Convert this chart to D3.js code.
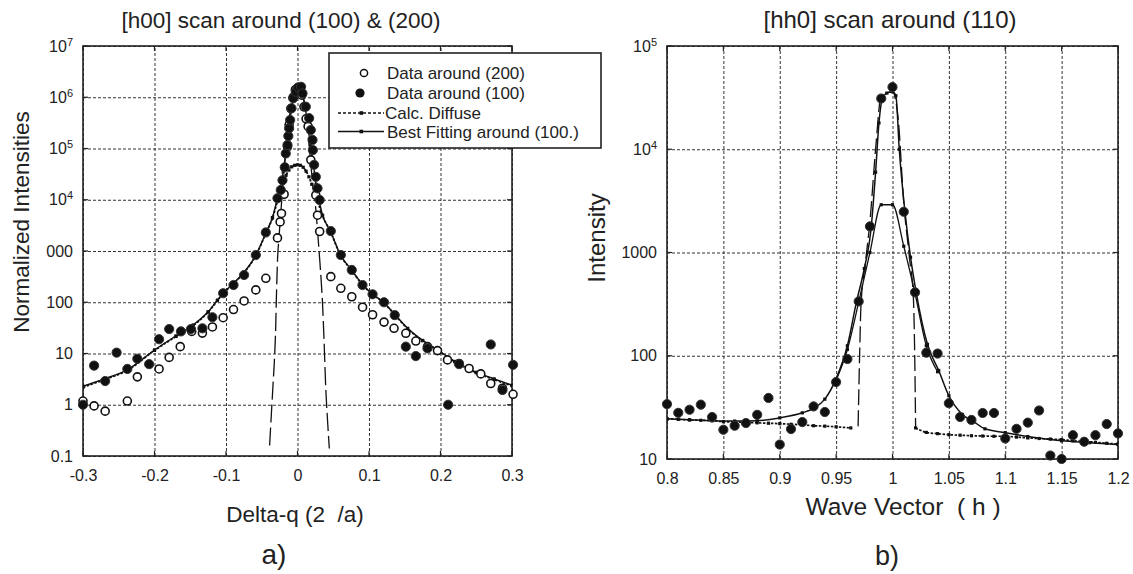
<!DOCTYPE html>
<html>
<head>
<meta charset="utf-8">
<script src="https://cdn.jsdelivr.net/npm/d3@7"></script>
<style>
body { margin: 0; background: #fff; }
svg text { font-family: "Liberation Sans", Arial, sans-serif; fill: #222; white-space: pre; }
.grid line { stroke: #333; stroke-width: 1; stroke-dasharray: 3,2; }
.grid .domain { display: none; }
.lbl .domain { display: none; }
</style>
</head>
<body>
<svg id="chart" width="1133" height="574"></svg>
<script>
// ---- panel a) [h00] scan ----
const q100 = [-0.300,-0.2845,-0.269,-0.253,-0.238,-0.224,-0.2075,-0.1936,-0.1795,-0.163,-0.149,-0.133,-0.119,-0.104,-0.0895,-0.0747,-0.0583,-0.0443,-0.028,-0.0234,-0.021,-0.0178,-0.0164,-0.014,-0.0128,-0.0117,-0.0103,-0.0084,-0.006,-0.0024,0.001,0.005,0.007,0.0116,0.0163,0.0186,0.021,0.0215,0.0232,0.0256,0.028,0.031,0.0466,0.0606,0.0759,0.0909,0.105,0.121,0.136,0.1515,0.1655,0.1818,0.2107,0.226,0.2703,0.2867,0.3015];
const i100 = [1.0,5.8,2.9,10.4,5.0,7.9,6.2,19,30,27,30,31,51,150,217,340,835,2300,10700,15500,24000,43000,80000,117000,175000,248000,360000,608000,955000,1280000,1560000,1600000,1190000,655000,390000,229000,147000,93000,48000,28000,16700,9900,2450,835,427,217,143,100,56,13.6,8.9,12.6,1.0,6.2,15,1.94,6.0];

const q200 = [-0.300,-0.2845,-0.269,-0.238,-0.224,-0.1936,-0.1795,-0.164,-0.148,-0.133,-0.119,-0.104,-0.0895,-0.0747,-0.0583,-0.0443,-0.028,-0.0243,-0.0224,-0.0187,-0.014,-0.0117,-0.0093,-0.006,-0.003,0.0,0.003,0.006,0.009,0.012,0.0148,0.0186,0.0256,0.028,0.031,0.0466,0.0606,0.0759,0.091,0.105,0.121,0.135,0.1515,0.1655,0.1818,0.1958,0.2098,0.226,0.240,0.2564,0.2703,0.2867,0.3015];
const i200 = [1.18,0.95,0.75,1.18,3.5,5.0,8.4,13.6,27,25,33,50,72,106,174,293,1800,3700,5400,12800,108000,290000,600000,1000000,1400000,1500000,1400000,1100000,650000,380000,270000,60000,12300,5000,2400,316,187,128,80,57,41,31,24.8,17.5,13.6,11.4,7.5,6.4,5.1,4.0,2.6,2.1,1.6];

const qFit = [-0.300,-0.270,-0.238,-0.200,-0.170,-0.146,-0.125,-0.112,-0.104,-0.090,-0.075,-0.058,-0.044,-0.035,-0.028,-0.024,-0.020,-0.016,-0.012,-0.008,-0.004,0.000,0.003,0.006,0.010,0.014,0.018,0.022,0.026,0.030,0.035,0.046,0.060,0.076,0.091,0.105,0.121,0.136,0.154,0.175,0.196,0.220,0.250,0.275,0.300];
const iFit = [2.3,3.2,4.8,11.7,22,36,65,110,150,230,380,840,2300,4500,10700,17000,35000,90000,260000,620000,1200000,1600000,1650000,1300000,750000,300000,120000,50000,20000,10000,5000,2450,840,420,220,145,98,58,31,18,11.7,7,4.3,3.2,2.4];

const qDiff = [-0.300,-0.270,-0.238,-0.200,-0.170,-0.146,-0.125,-0.112,-0.104,-0.090,-0.075,-0.058,-0.044,-0.035,-0.028,-0.024,-0.020,-0.016,-0.012,-0.008,-0.004,0.000,0.004,0.008,0.012,0.016,0.020,0.024,0.028,0.035,0.046,0.060,0.076,0.091,0.105,0.121,0.136,0.154,0.175,0.196,0.220,0.250,0.275,0.300];
const iDiff = [2.2,3.1,4.7,11.5,21.5,35,64,108,148,228,375,830,2250,4400,9500,15000,21000,30000,38000,44000,47000,48000,47000,43000,36000,28000,20000,14000,9500,4900,2400,830,415,218,143,97,57,30.5,17.8,11.5,6.9,4.2,3.1,2.35];

// long-dash peak curve (not in legend)
const qPeak = [-0.0390,-0.0365,-0.0340,-0.0320,-0.0305,-0.0295,-0.0280,-0.0257,-0.0220,-0.0180,-0.0140,-0.0100,-0.0060,-0.0020,0.0020,0.0060,0.0100,0.0140,0.0180,0.0220,0.0250,0.0280,0.0310,0.0330,0.0350,0.0370,0.0396,0.0420,0.0445];
const iPeak = [0.16,0.68,2.8,8.9,32,126,630,2000,10000,50000,200000,560000,1100000,1500000,1580000,1260000,700000,250000,63000,16000,8000,2500,700,280,95,20,2,0.5,0.14];

const aXTicks = [-0.3,-0.2,-0.1,0,0.1,0.2,0.3];
const aYTicks = [1e7,1e6,1e5,1e4,1e3,100,10,1,0.1];
const aYLabels = ["10^7","10^6","10^5","10^4","000","100","10","1","0.1"];

// ---- panel b) [hh0] scan ----
const hData = [0.80,0.81,0.82,0.83,0.84,0.85,0.86,0.87,0.88,0.89,0.90,0.91,0.92,0.93,0.94,0.95,0.96,0.97,0.98,0.99,1.00,1.01,1.02,1.03,1.04,1.05,1.06,1.07,1.08,1.09,1.10,1.11,1.12,1.13,1.14,1.15,1.16,1.17,1.18,1.19,1.20];
const iData = [34,28,30,33.6,25.5,19.2,21,22.3,26.8,39,13.8,19.5,22.8,32.3,28.5,55.6,93,336,1790,31000,40000,2480,411,107,105,34.7,25.5,23.9,27.9,27.9,15.8,19.6,22.5,29.5,10.8,10,17,14.7,17,21.8,17.7];

const hFit = [0.80,0.82,0.84,0.86,0.88,0.90,0.92,0.93,0.94,0.95,0.96,0.968,0.975,0.981,0.985,0.988,0.991,0.995,1.000,1.003,1.006,1.011,1.016,1.021,1.031,1.041,1.050,1.062,1.072,1.082,1.100,1.120,1.150,1.175,1.200];
const iFit2 = [24.5,24,23.5,23.3,23.5,25,28,31,38,60,125,330,700,1700,6000,18000,31000,35000,36000,33000,10000,2500,900,411,129,72,41,27,23,19.6,18,16.5,15,14.4,13.8];

const hHump = [0.950,0.960,0.970,0.980,0.990,1.000,1.010,1.020,1.030,1.040];
const iHump = [58,115,330,1000,2900,2900,1150,400,125,70];

const hBaseL = [0.80,0.81,0.82,0.83,0.84,0.85,0.86,0.87,0.88,0.89,0.90,0.91,0.92,0.93,0.94,0.95,0.963];
const iBaseL = [24.4,24.2,23.9,23.7,23.5,23,22.8,22.6,22.4,22.2,22,21.7,21.4,21,20.8,20.5,20];
const hPeakB = [0.9695,0.971,0.972,0.976,0.980,0.985,0.990,1.000,1.005,1.010,1.015,1.0186,1.020,1.0205];
const iPeakB = [20.7,120,300,800,2000,10000,33000,36000,20000,3000,900,350,59,20.4];
const hBaseR = [1.0205,1.03,1.04,1.05,1.06,1.07,1.08,1.09,1.10,1.11,1.12,1.13,1.14,1.15,1.16,1.17,1.18,1.19,1.20];
const iBaseR = [20,18.1,17.6,17.2,17,16.8,16.7,16.6,16.6,16.3,16,15.8,15.6,15.4,15,14.8,14.5,14.2,14];

const bXTicks = [0.8,0.85,0.9,0.95,1,1.05,1.1,1.15,1.2];
const bYTicks = [1e5,1e4,1e3,100,10];
const bYLabels = ["10^5","10^4","1000","100","10"];

const legendItems = ["Data around (200)","Data around (100)","Calc. Diffuse","Best Fitting around (100.)"];

const svg = d3.select("#chart");

function frame(id, x, y, xTicks, yTicks, yLabels) {
    const [x0, x1] = x.range(), [y0, y1] = y.range();
    const g = svg.append("g");
    g.append("clipPath").attr("id", id).append("rect")
        .attr("x", x0).attr("y", y1).attr("width", x1 - x0).attr("height", y0 - y1);
    // grid
    g.append("g").attr("class", "grid").attr("transform", `translate(0,${y0})`)
        .call(d3.axisBottom(x).tickValues(xTicks).tickSize(-(y0 - y1)).tickFormat(""));
    g.append("g").attr("class", "grid").attr("transform", `translate(${x0},0)`)
        .call(d3.axisLeft(y).tickValues(yTicks).tickSize(-(x1 - x0)).tickFormat(""));
    // labels
    g.append("g").attr("class", "lbl").attr("transform", `translate(0,${y0})`)
        .call(d3.axisBottom(x).tickValues(xTicks).tickSize(0).tickPadding(14)
            .tickFormat(d => String(+d.toFixed(2))))
        .selectAll("text").attr("font-size", 16).attr("fill", "#222");
    const yl = g.append("g").attr("class", "lbl").attr("transform", `translate(${x0},0)`)
        .call(d3.axisLeft(y).tickValues(yTicks).tickSize(0).tickPadding(10).tickFormat(""));
    yl.selectAll(".tick text").each(function(d, i) {
        const t = d3.select(this).attr("font-size", 16).attr("fill", "#222");
        const parts = yLabels[i].split("^");
        t.append("tspan").text(parts[0]);
        if (parts[1]) t.append("tspan").attr("dy", "-0.55em").attr("font-size", 11).text(parts[1]);
    });
    // inward tick marks on all four sides
    const tk = g.append("g").attr("stroke", "#222").attr("stroke-width", 1.2);
    xTicks.forEach(v => {
        tk.append("line").attr("x1", x(v)).attr("x2", x(v)).attr("y1", y0).attr("y2", y0 - 5);
        tk.append("line").attr("x1", x(v)).attr("x2", x(v)).attr("y1", y1).attr("y2", y1 + 5);
    });
    yTicks.forEach(v => {
        tk.append("line").attr("x1", x0).attr("x2", x0 + 5).attr("y1", y(v)).attr("y2", y(v));
        tk.append("line").attr("x1", x1).attr("x2", x1 - 5).attr("y1", y(v)).attr("y2", y(v));
    });
    g.append("rect").attr("x", x0).attr("y", y1).attr("width", x1 - x0).attr("height", y0 - y1)
        .attr("fill", "none").attr("stroke", "#222").attr("stroke-width", 1.6);
    return {
        lines: svg.append("g").attr("clip-path", `url(#${id})`),
        marks: svg.append("g")
    };
}

function curve(g, x, y, xs, ys, dash, width, squares) {
    const pts = d3.zip(xs, ys);
    g.append("path").datum(pts)
        .attr("fill", "none").attr("stroke", "#111").attr("stroke-width", width)
        .attr("stroke-dasharray", dash)
        .attr("d", d3.line().x(d => x(d[0])).y(d => y(d[1])).curve(d3.curveMonotoneX));
    if (squares) {
        g.selectAll(null).data(pts).join("rect")
            .attr("x", d => x(d[0]) - 1.6).attr("y", d => y(d[1]) - 1.6)
            .attr("width", 3.2).attr("height", 3.2).attr("fill", "#111");
    }
}

function dots(g, x, y, xs, ys, filled, r) {
    g.selectAll(null).data(d3.zip(xs, ys)).join("circle")
        .attr("cx", d => x(d[0])).attr("cy", d => y(d[1])).attr("r", r)
        .attr("fill", filled ? "#111" : "#fff")
        .attr("stroke", filled ? "#333" : "#111").attr("stroke-width", filled ? 1 : 1.6);
}

// ---- panel a ----
const ax = d3.scaleLinear().domain([-0.3, 0.3]).range([83, 512]);
const ay = d3.scaleLog().domain([0.1, 1e7]).range([456, 46]);
const pa = frame("clipA", ax, ay, aXTicks, aYTicks, aYLabels);
curve(pa.lines, ax, ay, qPeak, iPeak, "18,5", 1.3, false);
curve(pa.lines, ax, ay, qDiff, iDiff, "2.5,1.5", 1.8, true);
curve(pa.lines, ax, ay, qFit, iFit, null, 1.4, true);
dots(pa.marks, ax, ay, q200, i200, false, 4);
dots(pa.marks, ax, ay, q100, i100, true, 4.6);

// ---- panel b ----
const bx = d3.scaleLinear().domain([0.8, 1.2]).range([667, 1118]);
const by = d3.scaleLog().domain([10, 1e5]).range([459, 46]);
const pb = frame("clipB", bx, by, bXTicks, bYTicks, bYLabels);
curve(pb.lines, bx, by, hBaseL, iBaseL, "2.5,1.5", 1.7, true);
curve(pb.lines, bx, by, hBaseR, iBaseR, "2.5,1.5", 1.7, true);
curve(pb.lines, bx, by, hPeakB, iPeakB, "16,5", 1.3, false);
curve(pb.lines, bx, by, hHump, iHump, null, 1.3, true);
curve(pb.lines, bx, by, hFit, iFit2, null, 1.5, true);
dots(pb.marks, bx, by, hData, iData, true, 4.6);

// ---- legend ----
const lg = svg.append("g");
lg.append("rect").attr("x", 329).attr("y", 53).attr("width", 272).attr("height", 95)
    .attr("fill", "#fff").attr("stroke", "#222").attr("stroke-width", 1.6);
const rowY = [73, 93, 113, 131.5];
lg.append("circle").attr("cx", 364).attr("cy", rowY[0]).attr("r", 3.6)
    .attr("fill", "#fff").attr("stroke", "#111").attr("stroke-width", 1.5);
lg.append("circle").attr("cx", 360).attr("cy", rowY[1]).attr("r", 4.6).attr("fill", "#111");
lg.append("line").attr("x1", 338).attr("x2", 384).attr("y1", rowY[2]).attr("y2", rowY[2])
    .attr("stroke", "#111").attr("stroke-width", 1.3).attr("stroke-dasharray", "3,2");
lg.append("line").attr("x1", 338).attr("x2", 384).attr("y1", rowY[3]).attr("y2", rowY[3])
    .attr("stroke", "#111").attr("stroke-width", 1.3);
[2, 3].forEach(k => lg.append("rect").attr("x", 359.5).attr("y", rowY[k] - 1.8)
    .attr("width", 3.6).attr("height", 3.6).attr("fill", "#111"));
legendItems.forEach((s, k) => lg.append("text")
    .attr("x", k === 2 ? 385 : 387).attr("y", rowY[k] + 6).attr("font-size", 17).text(s));

// ---- titles ----
const txt = (x, y, s, size, rot) => {
    const t = svg.append("text").attr("text-anchor", "middle").attr("font-size", size).text(s);
    if (rot) t.attr("transform", `translate(${x},${y}) rotate(-90)`);
    else t.attr("x", x).attr("y", y);
};
txt(281, 28, "[h00] scan around (100) & (200)", 22.5);
txt(890, 28, "[hh0] scan around (110)", 24);
txt(295, 522, "Delta-q (2  /a)", 22.5);
txt(903, 515, "Wave Vector  ( h )", 24.5);
txt(29, 222, "Normalized Intensities", 22.5, true);
txt(605, 238, "Intensity", 24, true);
txt(274, 564, "a)", 28);
txt(887, 565, "b)", 27);
</script>
</body>
</html>
